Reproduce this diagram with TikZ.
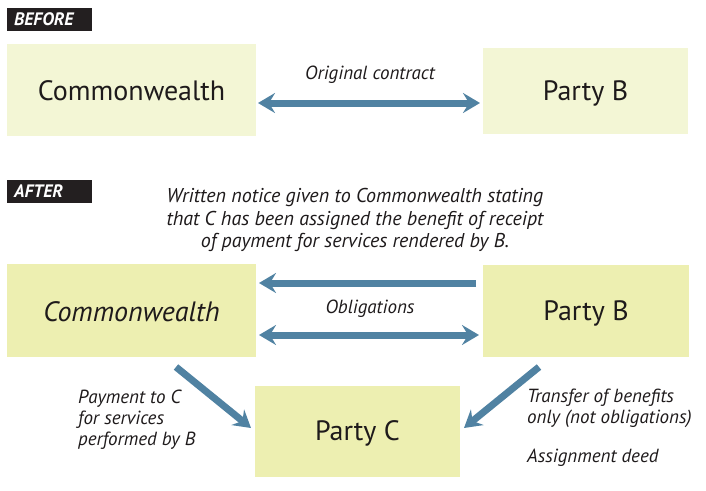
\documentclass[tikz,border=0pt]{standalone}
\usepackage{fontspec}
\setmainfont{PT Sans}
\usetikzlibrary{arrows.meta}
\definecolor{arrowblue}{RGB}{80,130,162}
\definecolor{paleA}{RGB}{243,246,213}
\definecolor{paleB}{RGB}{237,239,177}
\definecolor{tagbg}{RGB}{35,31,32}
\definecolor{txt}{RGB}{30,26,27}
\tikzset{
  tag/.style={fill=tagbg, text=white, font=\fontsize{18}{20}\selectfont\bfseries\itshape, anchor=west, minimum width=85pt, minimum height=23pt, inner sep=0pt, text width=77pt},
  party/.style={inner sep=0pt, text=txt, font=\fontsize{28}{32}\selectfont},
  bigarrow/.style={draw=arrowblue, line width=7pt, -{Stealth[length=17pt,width=20pt,inset=6pt]}},
  bothway/.style={draw=arrowblue, line width=7pt, {Stealth[length=17pt,width=20pt,inset=6pt]}-{Stealth[length=17pt,width=20pt,inset=6pt]}},
  lbl/.style={text=txt, font=\fontsize{19}{21}\selectfont\itshape, inner sep=0pt}
}
\begin{document}
\begin{tikzpicture}[x=1pt,y=-1pt]
\useasboundingbox (0,0) rectangle (706,490);
% BEFORE
\node[tag] (before) at (7,19.5) {\hspace*{3pt}BEFORE};
\fill[paleA] (7,44) rectangle (256,136);
\node[party] (cw1) at (131.5,91) {Commonwealth};
\fill[paleA] (483,48) rectangle (688,134);
\node[party] (pb1) at (585.5,93) {Party B};
\coordinate (a1l) at (258,103);
\coordinate (a1r) at (480,103);
\draw[bothway] (a1l) -- (a1r);
\node[lbl] (orig) at (370,75) {Original contract};
% AFTER
\node[tag] (after) at (7,191.5) {\hspace*{3pt}AFTER};
\node[lbl, align=center, font=\fontsize{20}{22.5}\selectfont\itshape] (notice) at (355,220)
  {Written notice given to Commonwealth stating\\that C has been assigned the benefit of receipt\\of payment for services rendered by B.};
\fill[paleB] (7,264) rectangle (256,357);
\node[party, font=\fontsize{28}{32}\selectfont\itshape] (cw2) at (131.5,312) {Commonwealth};
\fill[paleB] (483,265) rectangle (689,357);
\node[party] (pb2) at (586,313) {Party B};
\fill[paleB] (255,386) rectangle (460,477);
\node[party] (pc) at (357.5,433) {Party C};
\coordinate (a2r) at (476,283);
\coordinate (a2l) at (259,283);
\draw[bigarrow] (a2r) -- (a2l);
\node[lbl] (oblig) at (370,309) {Obligations};
\coordinate (a3l) at (259,335);
\coordinate (a3r) at (479,335);
\draw[bothway] (a3l) -- (a3r);
\coordinate (a4s) at (176,367);
\coordinate (a4e) at (251,428);
\draw[bigarrow] (a4s) -- (a4e);
\coordinate (a5s) at (539,367);
\coordinate (a5e) at (464,428);
\draw[bigarrow] (a5s) -- (a5e);
\node[lbl, align=left, anchor=north west] (pay) at (78,390)
  {Payment to C\\for services\\performed by B};
\node[lbl, align=left, anchor=north west] (transfer) at (527,389)
  {Transfer of benefits\\only (not obligations)};
\node[lbl, anchor=west] (deed) at (527,458) {Assignment deed};
\end{tikzpicture}
\end{document}
